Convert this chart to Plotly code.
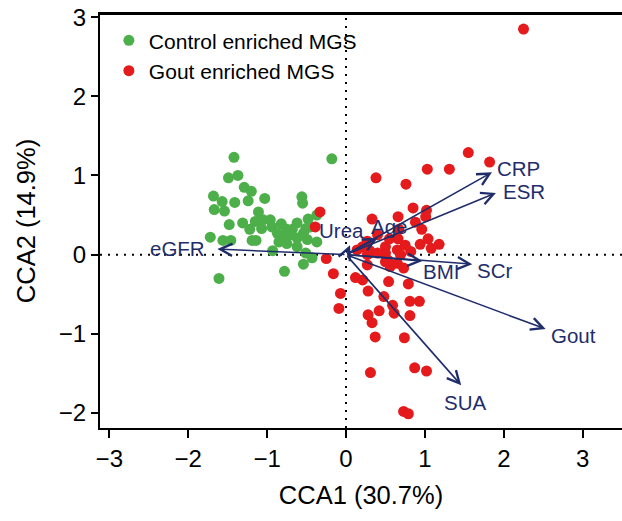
import plotly.graph_objects as go

# ---- data ----
ctrl_x = [-1.42, -1.49, -1.37, -1.68, -1.29, -1.20, -1.57, -1.67, -1.54, -1.41, -1.24, -1.03,
          -0.56, -0.55, -1.11, -1.48, -1.31, -1.22, -1.15, -1.05, -0.96, -1.07, -0.94, -0.82,
          -0.75, -0.62, -0.48, -0.68, -0.51, -0.45, -0.37, -0.87, -0.79, -0.70, -0.62, -0.54,
          -0.49, -1.72, -1.56, -1.46, -1.19, -1.14, -0.93, -0.85, -0.75, -0.62, -0.51, -0.37,
          -0.54, -0.78, -1.61, -0.18, -0.43]
ctrl_y = [1.23, 0.97, 1.00, 0.74, 0.85, 0.80, 0.67, 0.57, 0.55, 0.66, 0.68, 0.71,
          0.73, 0.65, 0.54, 0.38, 0.40, 0.32, 0.42, 0.44, 0.44, 0.33, 0.35, 0.39,
          0.32, 0.40, 0.45, 0.32, 0.33, 0.35, 0.50, 0.27, 0.23, 0.25, 0.21, 0.27,
          0.19, 0.22, 0.18, 0.18, 0.18, 0.18, 0.05, 0.16, 0.14, 0.10, 0.02, 0.16,
          -0.12, -0.21, -0.30, 1.21, -0.04]

gout_x = [2.25, 1.55, 1.82, 1.03, 1.31, 0.38, 0.76, 0.85, 1.02, 0.66, 1.01, 0.33, 0.88,
          0.96, 0.67, 0.66, 1.04, 1.18, 1.08, 0.94, -0.33, -0.39, 0.27, 0.21, 0.14, 0.50,
          0.50, 0.65, 0.82, 0.50, 0.65, 0.73, 0.56, 0.27, 0.12, 0.21, 0.54, 0.79, -0.25,
          -0.16, -0.07, -0.09, 0.28, 0.48, 0.59, 0.61, 0.81, 0.93, 0.81, 0.28, 0.33, 0.42,
          0.37, 0.74, 0.31, 0.87, 1.02, 0.73, 0.79, 0.69, 0.40, 0.27, 0.53, 0.40, 0.55,
          0.75, 0.30]
gout_y = [2.85, 1.29, 1.17, 1.08, 1.08, 0.97, 0.89, 0.59, 0.56, 0.48, 0.48, 0.45, 0.41,
          0.32, 0.32, 0.20, 0.20, 0.13, 0.08, 0.13, 0.54, 0.35, 0.17, 0.10, 0.06, 0.10,
          0.02, 0.06, 0.04, -0.09, -0.11, -0.17, -0.15, -0.13, -0.29, -0.32, -0.34, -0.37, -0.05,
          -0.24, -0.49, -0.68, -0.46, -0.53, -0.64, -0.74, -0.59, -0.59, -0.77, -0.76, -0.86, -0.71,
          -1.04, -1.05, -1.49, -1.43, -1.47, -1.98, -2.01, 0.00, 0.02, 0.00, -0.07, 0.25, 0.20,
          0.12, 0.05]

env_names = ["eGFR", "CRP", "ESR", "Urea", "Age", "BMI", "SCr", "Gout", "SUA"]
env_x = [-1.63, 1.85, 1.90, 0.05, 0.40, 0.97, 1.60, 2.53, 1.46]
env_y = [0.07, 1.04, 0.78, 0.12, 0.21, -0.08, -0.12, -0.94, -1.65]

x_ticks = [-3, -2, -1, 0, 1, 2, 3]
y_ticks = [-2, -1, 0, 1, 2, 3]

# ---- styling ----
GREEN = "#4DAF4A"
RED = "#E41A1C"
NAVY = "#1F2D6B"
FONT = "Liberation Sans, Arial, Helvetica, sans-serif"

# label placement relative to each arrow tip: (xanchor, xshift px, yshift px)
label_style = {
    "eGFR": ("right", -10, 1),
    "CRP": ("left", 3, 4),
    "ESR": ("left", 5, 1),
    "Urea": ("center", -8, 15),
    "Age": ("center", 11, 12),
    "BMI": ("left", -2, -11),
    "SCr": ("left", 3, -6),
    "Gout": ("left", 3, -6),
    "SUA": ("center", 4, -17),
}

fig = go.Figure()

fig.add_trace(go.Scatter(
    x=ctrl_x, y=ctrl_y, mode="markers", name="Control enriched MGS",
    marker=dict(color=GREEN, size=11, line=dict(width=0)),
))
fig.add_trace(go.Scatter(
    x=gout_x, y=gout_y, mode="markers", name="Gout enriched MGS",
    marker=dict(color=RED, size=11, line=dict(width=0)),
))

annotations = []
for n, ex, ey in zip(env_names, env_x, env_y):
    annotations.append(dict(
        x=ex, y=ey, ax=0, ay=0, xref="x", yref="y", axref="x", ayref="y",
        text="", showarrow=True, arrowhead=5, arrowsize=1.5, arrowwidth=1.6,
        arrowcolor=NAVY, standoff=0, startstandoff=0,
    ))
    xa, xs, ys = label_style[n]
    annotations.append(dict(
        x=ex, y=ey, xref="x", yref="y", text=n, showarrow=False,
        xanchor=xa, yanchor="middle", xshift=xs, yshift=ys,
        font=dict(family=FONT, size=20.5, color=NAVY),
    ))

shapes = [
    dict(type="line", xref="x", yref="paper", x0=0, x1=0, y0=0, y1=1,
         line=dict(color="black", width=2, dash="2px,6px"), layer="below"),
    dict(type="line", xref="paper", yref="y", x0=0, x1=1, y0=0, y1=0,
         line=dict(color="black", width=2, dash="2px,6px"), layer="below"),
    dict(type="line", xref="paper", yref="paper", x0=0, x1=1, y0=1, y1=1,
         line=dict(color="black", width=2)),
]

fig.update_layout(
    width=622, height=521,
    margin=dict(l=100, r=0, t=14, b=93, autoexpand=False),
    paper_bgcolor="white", plot_bgcolor="white",
    font=dict(family=FONT, color="black"),
    showlegend=True,
    legend=dict(
        x=0.017, y=0.985, xanchor="left", yanchor="top",
        bgcolor="rgba(0,0,0,0)", borderwidth=0,
        font=dict(family=FONT, size=21, color="black"),
    ),
    annotations=annotations,
    shapes=shapes,
)

fig.update_xaxes(
    range=[-3.118, 3.498], tickvals=x_ticks, ticktext=[str(v).replace("-", "\u2212") for v in x_ticks],
    showgrid=False, zeroline=False, showline=True, linecolor="black", linewidth=2, mirror=True,
    ticks="outside", ticklen=8, tickwidth=2, tickcolor="black", automargin=False,
    tickfont=dict(family=FONT, size=24, color="black"),
    title=dict(text="CCA1 (30.7%)", font=dict(family=FONT, size=25.5, color="black"), standoff=15),
)
fig.update_yaxes(
    range=[-2.19, 3.04], tickvals=y_ticks, ticktext=[str(v).replace("-", "\u2212") for v in y_ticks],
    showgrid=False, zeroline=False, showline=True, linecolor="black", linewidth=2,
    ticks="outside", ticklen=7, tickwidth=2, tickcolor="black", automargin=False,
    tickfont=dict(family=FONT, size=24, color="black"),
    title=dict(text="CCA2 (14.9%)", font=dict(family=FONT, size=25.5, color="black"), standoff=16),
)

fig.write_html("out.html", config={"displayModeBar": False},
               post_script="document.body.style.margin='0px';document.body.style.overflow='hidden';")
